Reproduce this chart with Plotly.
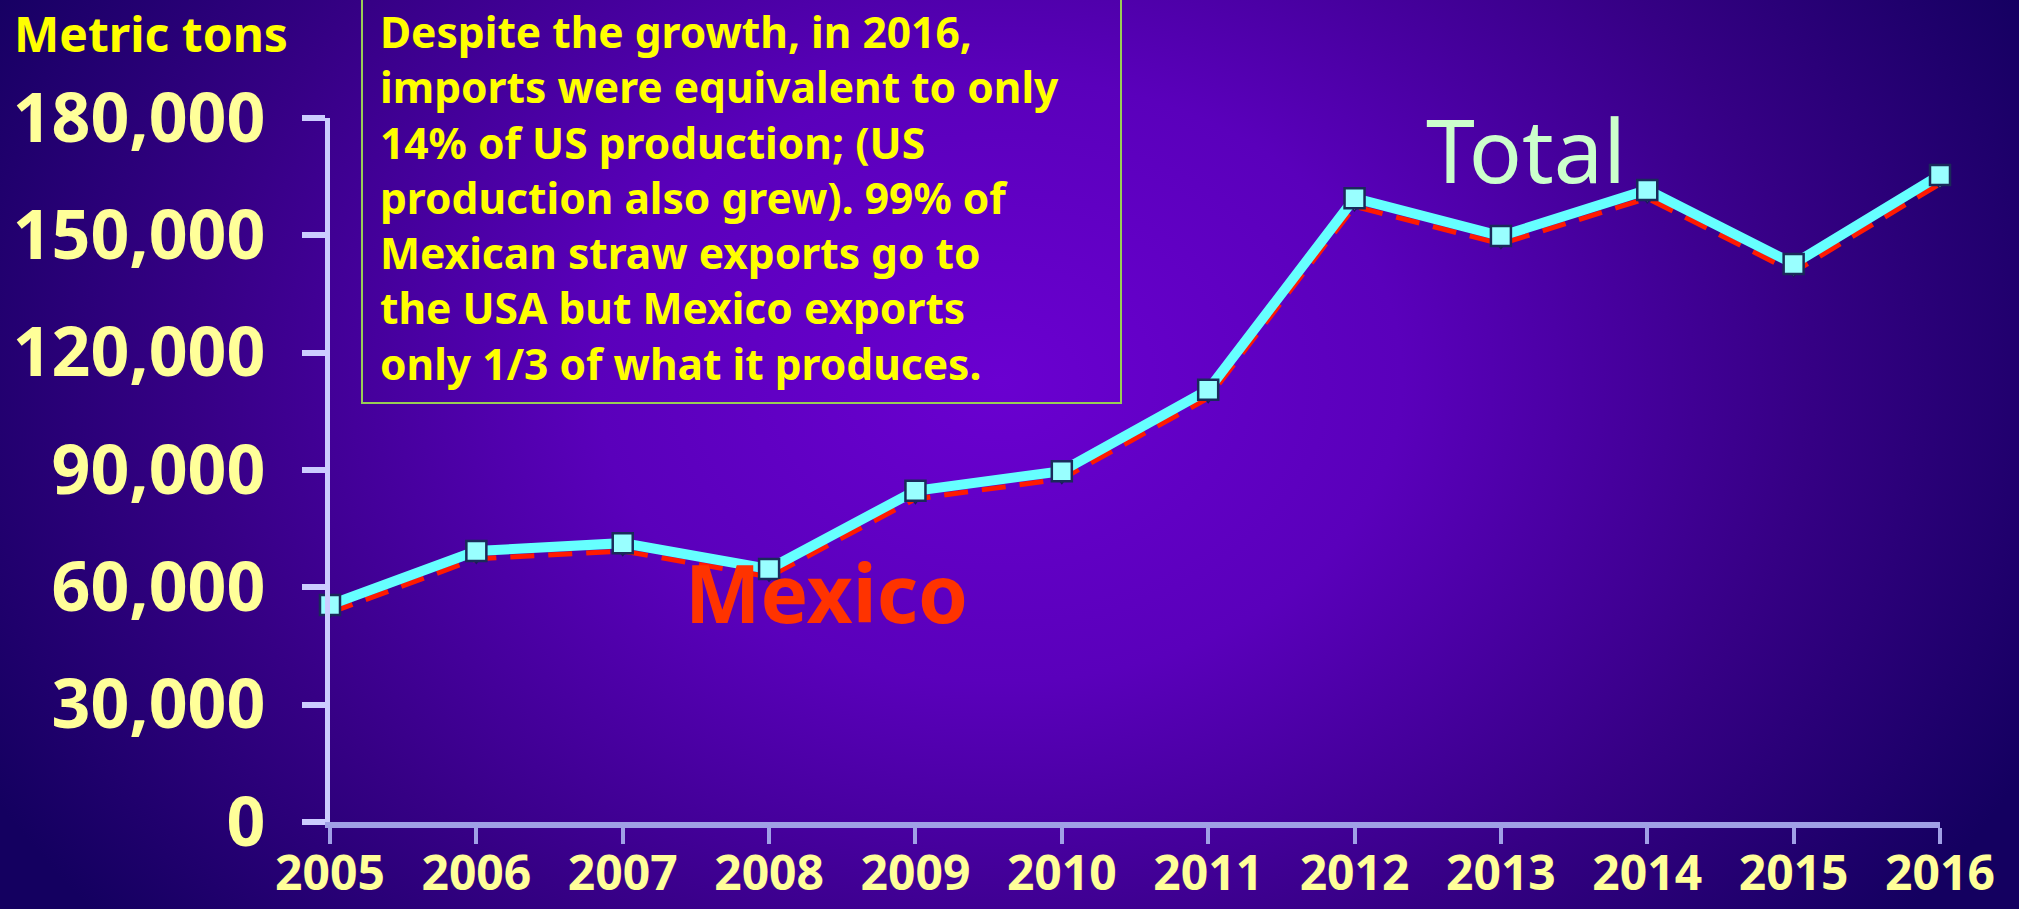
import base64
import plotly.graph_objects as go

# Strawberry import volumes, metric tons
years = [2005, 2006, 2007, 2008, 2009, 2010, 2011, 2012, 2013, 2014, 2015, 2016]
total = [55500, 69300, 71300, 64700, 84700, 89700, 110500, 159500, 149800, 161600, 142700, 165400]
mexico = [53500, 67300, 69300, 62700, 82600, 87700, 108400, 157400, 147800, 159500, 140600, 163200]
y_ticks = [0, 30000, 60000, 90000, 120000, 150000, 180000]

note_lines = [
    "Despite the growth, in 2016,",
    "imports were equivalent to only",
    "14% of US production; (US",
    "production also grew). 99% of",
    "Mexican straw exports go to",
    "the USA but Mexico exports",
    "only 1/3 of what it produces.",
]

W, H = 2019, 909
L, R, T, B = 330, 1940, 118, 822  # plot area edges in pixels


def px(x):
    return (x - L) / (R - L)


def py(y):
    return (B - y) / (B - T)


# radial purple backdrop as an SVG gradient
svg = f"""<svg xmlns='http://www.w3.org/2000/svg' width='{W}' height='{H}' viewBox='0 0 {W} {H}'>
<defs><radialGradient id='g' gradientUnits='userSpaceOnUse' cx='1000' cy='380' r='1150'
 gradientTransform='translate(1000 380) scale(1 0.75) translate(-1000 -380)'>
<stop offset='0' stop-color='#6a00d0'/>
<stop offset='0.35' stop-color='#5a00bb'/>
<stop offset='0.7' stop-color='#360085'/>
<stop offset='1' stop-color='#140060'/>
</radialGradient></defs>
<rect width='{W}' height='{H}' fill='url(#g)'/></svg>"""
bg_src = "data:image/svg+xml;base64," + base64.b64encode(svg.encode()).decode()

fig = go.Figure()

fig.add_trace(go.Scatter(
    x=years, y=mexico, mode="lines+markers", name="Mexico",
    line=dict(color="#ff1a00", width=5, dash="24px,14px"),
    marker=dict(symbol="triangle-down", size=9, color="#d8ccff",
                line=dict(color="#1a1a5a", width=1.5)),
    cliponaxis=False, showlegend=False,
))

fig.add_trace(go.Scatter(
    x=years, y=total, mode="lines+markers", name="Total",
    line=dict(color="#66ffff", width=10),
    marker=dict(symbol="square", size=20, color="#99ffff",
                line=dict(color="#1a2a5a", width=2.5)),
    cliponaxis=False, showlegend=False,
))

fig.update_layout(
    width=W, height=H,
    margin=dict(l=L, r=W - R, t=T, b=H - B, autoexpand=False),
    paper_bgcolor="#1a0066",
    plot_bgcolor="rgba(0,0,0,0)",
    images=[dict(source=bg_src, xref="paper", yref="paper",
                 x=px(0), y=py(0), sizex=px(W) - px(0), sizey=py(0) - py(H),
                 xanchor="left", yanchor="top", sizing="stretch", layer="below")],
    xaxis=dict(
        range=[2005, 2016], tickvals=years, ticktext=[str(y) for y in years],
        showgrid=False, zeroline=False, automargin=False,
        showline=True, linecolor="#a0a0e6", linewidth=6,
        ticks="outside", ticklen=16, tickwidth=4, tickcolor="#a0a0e6",
        tickfont=dict(family="Noto Sans", size=48, color="#ffff99", weight="bold"),
        ticklabelstandoff=-12,
    ),
    yaxis=dict(
        range=[0, 180000], tickvals=y_ticks, tickformat=",",
        showgrid=False, zeroline=False, automargin=False,
        showline=True, linecolor="#ccccff", linewidth=5,
        ticks="outside", ticklen=23, tickwidth=6, tickcolor="#ccccff",
        tickfont=dict(family="Noto Sans", size=68, color="#ffff99", weight="bold"),
        ticklabelstandoff=23,
    ),
    shapes=[dict(type="rect", xref="paper", yref="paper",
                 x0=px(362), x1=px(1121), y0=py(403), y1=py(-10),
                 line=dict(color="#99cc55", width=2), fillcolor="rgba(0,0,0,0)")],
    annotations=[
        dict(text="Metric tons", xref="paper", yref="paper", x=px(12), y=py(34),
             xanchor="left", yanchor="middle", showarrow=False,
             font=dict(family="Noto Sans", size=48, color="#ffff00", weight="bold")),
        dict(text="<br>".join(note_lines), xref="paper", yref="paper",
             x=px(378), y=py(1), xanchor="left", yanchor="top", align="left",
             showarrow=False,
             font=dict(family="Noto Sans", size=42.5, color="#ffff00", weight="bold")),
        dict(text="Total", xref="paper", yref="paper", x=px(1526), y=py(149),
             xanchor="center", yanchor="middle", showarrow=False,
             font=dict(family="Noto Sans", size=88, color="#ccffcc")),
        dict(text="Mexico", xref="paper", yref="paper", x=px(826), y=py(591),
             xanchor="center", yanchor="middle", showarrow=False,
             font=dict(family="Noto Sans", size=80, color="#ff3300", weight="bold")),
    ],
)

fig.write_html("out.html")
